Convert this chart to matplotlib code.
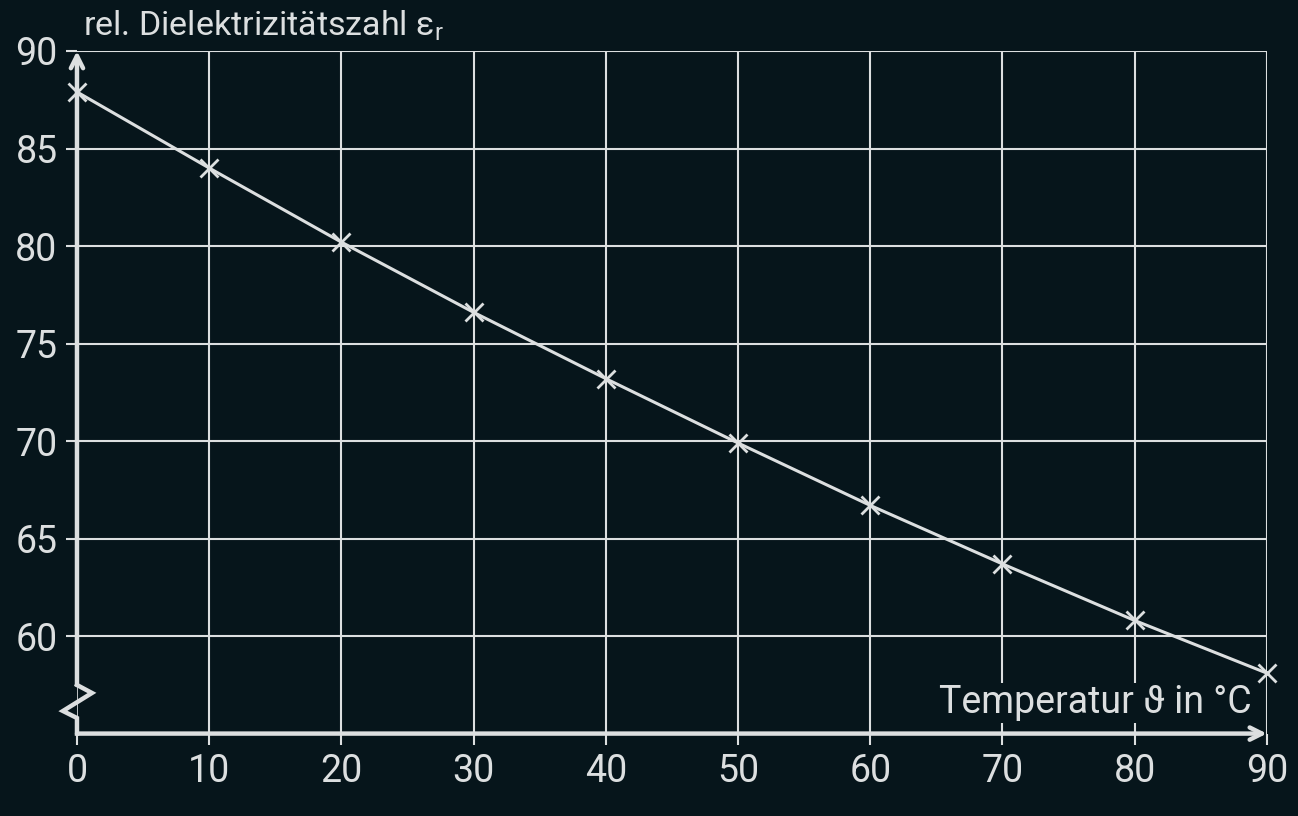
import matplotlib
matplotlib.use("Agg")
import matplotlib.pyplot as plt
import numpy as np

# temperature (deg C) and relative permittivity of water
temperature = [0, 10, 20, 30, 40, 50, 60, 70, 80, 90]
epsilon_r = [87.9, 84.0, 80.2, 76.6, 73.2, 69.9, 66.7, 63.7, 60.8, 58.1]

x_ticks = [0, 10, 20, 30, 40, 50, 60, 70, 80, 90]
y_ticks = [60, 65, 70, 75, 80, 85, 90]

bg = "#06151b"
fg = "#dcdfe0"

plt.rcParams['font.family'] = ['Roboto', 'DejaVu Sans']
plt.rcParams['mathtext.fontset'] = 'custom'
plt.rcParams['mathtext.rm'] = 'Roboto'

fig = plt.figure(figsize=(12.98, 8.16), dpi=100, facecolor=bg)
ax = fig.add_axes([0.0593, 0.101, 0.9167, 0.8365], facecolor=bg)

ax.set_xlim(0, 90)
ax.set_ylim(55, 90)

# grid
for xv in x_ticks[1:]:
    ax.axvline(xv, color=fg, lw=1.5, zorder=1)
for yv in y_ticks:
    ax.axhline(yv, color=fg, lw=1.5, zorder=1)
# thin line through the axis break
ax.axvline(0, ymax=0.075, color=fg, lw=1.2, zorder=1)

for s in ax.spines.values():
    s.set_visible(False)

ax.set_xticks(x_ticks)
ax.set_yticks(y_ticks)
ax.tick_params(colors=fg, labelsize=27, length=8, width=1.5, pad=6)

# data
ax.plot(temperature, epsilon_r, color=fg, lw=2.2, marker='x', ms=13, mew=2,
        zorder=4, clip_on=False)

# axes with arrows
ax.annotate('', xy=(1.0, 0.0), xytext=(0.0, 0.0), xycoords='axes fraction',
            arrowprops=dict(arrowstyle='->', color=fg, lw=3.2,
                            mutation_scale=22, shrinkA=0, shrinkB=0), zorder=5)
# y axis with break symbol near the bottom
yb = [0.0, 0.0228, 0.0331, 0.0595, 0.0712]
xb = [0.0, 0.0, -0.0118, 0.0126, 0.0]
ax.plot(xb, yb, color=fg, lw=3.2, transform=ax.transAxes,
        clip_on=False, zorder=5, solid_joinstyle='miter')
ax.annotate('', xy=(0.0, 1.0), xytext=(0.0, 0.0712), xycoords='axes fraction',
            arrowprops=dict(arrowstyle='->', color=fg, lw=3.2,
                            mutation_scale=22, shrinkA=0, shrinkB=0), zorder=5)

# axis labels
fig.text(0.064, 0.969, r'rel. Dielektrizitätszahl ε$_{\mathrm{r}}$', color=fg,
         fontsize=24.5, ha='left', va='center')
ax.text(0.987, 0.030, 'Temperatur ϑ in °C', color=fg, fontsize=27,
        ha='right', va='baseline', transform=ax.transAxes, zorder=3,
        bbox=dict(facecolor=bg, edgecolor='none', pad=1))

fig.savefig("out.png", dpi=100, facecolor=bg)
